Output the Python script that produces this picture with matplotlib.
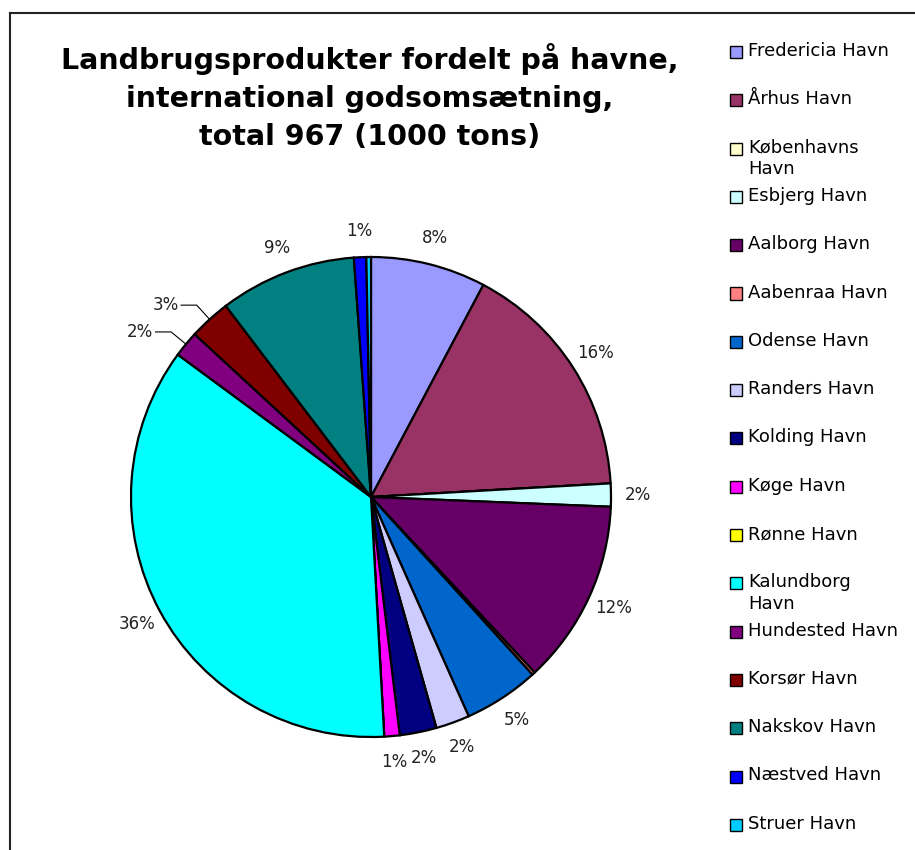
import numpy as np
import matplotlib
matplotlib.use("Agg")
import matplotlib.pyplot as plt
from matplotlib.patches import Rectangle
from matplotlib.lines import Line2D

plt.rcParams['font.family'] = ['DejaVu Sans']

# data (1000 tons)
havne = ["Fredericia Havn", "Århus Havn", "Københavns\nHavn", "Esbjerg Havn",
         "Aalborg Havn", "Aabenraa Havn", "Odense Havn", "Randers Havn",
         "Kolding Havn", "Køge Havn", "Rønne Havn", "Kalundborg\nHavn",
         "Hundested Havn", "Korsør Havn", "Nakskov Havn", "Næstved Havn",
         "Struer Havn"]
tons = [75, 158, 0, 15, 120, 2, 49, 22, 24, 10, 0, 348, 17, 27, 89, 8, 3]
colors = ["#9999FF", "#993366", "#FFFFCC", "#CCFFFF", "#660066", "#FF8080",
          "#0066CC", "#CCCCFF", "#000080", "#FF00FF", "#FFFF00", "#00FFFF",
          "#800080", "#800000", "#008080", "#0000FF", "#00CCFF"]
leader = ["Hundested Havn", "Korsør Havn"]  # labels drawn with leader line

W, H = 915, 850
fig = plt.figure(figsize=(W / 100, H / 100), dpi=100)

# pie axes: centre (371, 497) px, radius 240 px
lim = 1.3
size = 2 * lim * 240
ax = fig.add_axes([(371 - size / 2) / W, (H - 497 - size / 2) / H, size / W, size / H])

wedges, _ = ax.pie(tons, colors=colors, startangle=90, counterclock=False,
                   wedgeprops=dict(edgecolor="black", linewidth=1.6))
ax.set_xlim(-lim, lim)
ax.set_ylim(-lim, lim)
ax.set_aspect("equal")
ax.axis("off")

total = sum(tons)
for w, name, v in zip(wedges, havne, tons):
    pct = 100.0 * v / total
    if pct < 0.5:
        continue
    mid = np.deg2rad((w.theta1 + w.theta2) / 2)
    txt = "%d%%" % round(pct)
    if name in leader:
        ex, ey = np.cos(mid), np.sin(mid)
        bx, by = 1.08 * ex, 1.08 * ey
        tx = bx - 0.065
        ax.plot([ex, bx, tx], [ey, by, by], color="black", lw=0.8)
        ax.text(tx - 0.01, by, txt, ha="right", va="center", fontsize=12,
                color="#222222")
    else:
        r = 1.11
        ax.text(r * np.cos(mid), r * np.sin(mid), txt, ha="center", va="center",
                fontsize=12, color="#222222")

# title
fig.text(370 / W, 1 - 97 / H,
         "Landbrugsprodukter fordelt på havne,\ninternational godsomsætning,\ntotal 967 (1000 tons)",
         ha="center", va="center", fontsize=20.5, fontweight="bold", linespacing=1.45)

# legend, evenly spaced entries
y0, step = 52, 48.3
for i, (name, c) in enumerate(zip(havne, colors)):
    yc = y0 + i * step
    fig.add_artist(Rectangle((730 / W, 1 - (yc + 6) / H), 12 / W, 12 / H,
                             facecolor=c, edgecolor="black", lw=1.0,
                             transform=fig.transFigure))
    fig.text(748 / W, 1 - (yc - 10) / H, name, ha="left", va="top",
             fontsize=13, linespacing=1.25)

# outer frame (left and top edges)
fig.add_artist(Line2D([10 / W, 10 / W], [0, 1 - 13 / H], color="#222222", lw=1.5,
                      transform=fig.transFigure))
fig.add_artist(Line2D([10 / W, 1], [1 - 13 / H, 1 - 13 / H], color="#222222", lw=1.5,
                      transform=fig.transFigure))

fig.savefig("out.png", dpi=100)
